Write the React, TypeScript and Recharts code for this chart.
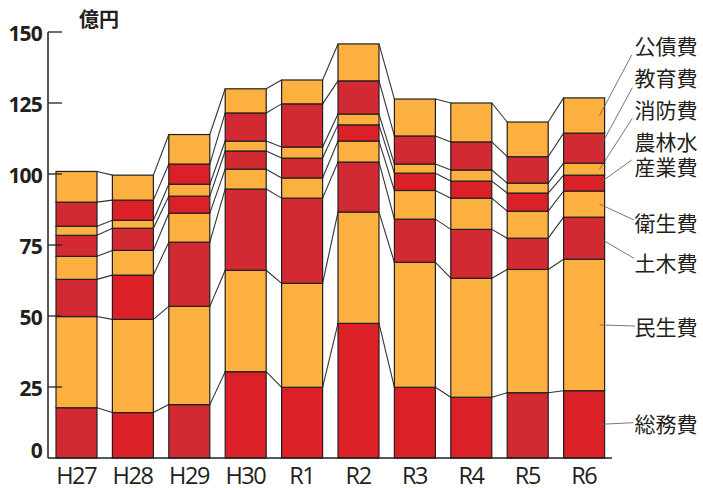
import React from 'react';
import * as RC from 'recharts';

const { BarChart, Bar, XAxis, YAxis } = RC as any;

// ---------- data ----------
const categories = ['H27', 'H28', 'H29', 'H30', 'R1', 'R2', 'R3', 'R4', 'R5', 'R6'];
const soumu = [17.7, 16.0, 18.8, 30.4, 24.9, 47.4, 24.9, 21.4, 23.0, 23.7]; // 総務費
const minsei = [32.1, 32.8, 34.6, 35.7, 36.6, 39.2, 44.0, 41.9, 43.4, 46.3]; // 民生費
const doboku = [13.1, 15.6, 22.6, 28.6, 30.0, 17.6, 15.2, 17.2, 11.0, 14.8]; // 土木費
const eisei = [8.1, 8.7, 10.2, 7.0, 7.1, 7.4, 10.1, 11.0, 9.5, 9.2]; // 衛生費
const nourin = [7.4, 7.8, 6.0, 6.4, 7.0, 5.7, 6.1, 6.0, 6.4, 5.6]; // 農林水産業費
const shoubou = [3.2, 2.8, 4.2, 3.5, 3.9, 3.8, 3.2, 3.9, 3.5, 4.2]; // 消防費
const kyouiku = [8.5, 7.1, 7.1, 9.9, 15.2, 11.7, 9.9, 9.9, 9.3, 10.6]; // 教育費
const kousai = [10.8, 8.8, 10.4, 8.5, 8.4, 13.0, 13.0, 13.7, 12.2, 12.4]; // 公債費

const seriesKeys = ['soumu', 'minsei', 'doboku', 'eisei', 'nourin', 'shoubou', 'kyouiku', 'kousai'];
const seriesNames = ['総務費', '民生費', '土木費', '衛生費', '農林水産業費', '消防費', '教育費', '公債費'];
const seriesValues = [soumu, minsei, doboku, eisei, nourin, shoubou, kyouiku, kousai];
const yTicks = [0, 25, 50, 75, 100, 125, 150];
const unitLabel = '億円';

const data = categories.map((c, i) => {
  const row: any = { name: c };
  seriesKeys.forEach((k, s) => {
    row[k] = seriesValues[s][i];
  });
  return row;
});

// ---------- styles ----------
const ORANGE = '#FBB040';
const RED_D = '#D22A32';
const RED_B = '#DC2027';
const INK = '#231F20';
// red shade per bar (d = darker, b = brighter) for the red series
const redShade: Record<string, string[]> = {
  soumu: ['d', 'b', 'd', 'b', 'b', 'b', 'b', 'b', 'd', 'b'],
  doboku: ['d', 'b', 'd', 'd', 'd', 'd', 'd', 'd', 'd', 'd'],
  nourin: ['d', 'd', 'b', 'd', 'd', 'b', 'b', 'b', 'b', 'b'],
  kyouiku: ['d', 'b', 'b', 'd', 'd', 'd', 'd', 'd', 'd', 'd'],
};
function fillFor(s: number, i: number) {
  const key = seriesKeys[s];
  const shades = redShade[key];
  if (!shades) return ORANGE;
  return shades[i] === 'b' ? RED_B : RED_D;
}

// legend label layout (label text lines with their vertical centres, and leader end point)
const legendLayout: Record<string, { lines: string[]; cy: number[]; end: [number, number] }> = {
  kousai: { lines: ['公債費'], cy: [45], end: [631.7, 55] },
  kyouiku: { lines: ['教育費'], cy: [77.2], end: [632.3, 87.7] },
  shoubou: { lines: ['消防費'], cy: [108.7], end: [632.3, 118.3] },
  nourin: { lines: ['農林水', '産業費'], cy: [141.2, 166.2], end: [631.7, 160] },
  eisei: { lines: ['衛生費'], cy: [222.2], end: [634, 220] },
  doboku: { lines: ['土木費'], cy: [262.3], end: [634, 258.3] },
  minsei: { lines: ['民生費'], cy: [325.8], end: [635, 326] },
  soumu: { lines: ['総務費'], cy: [422.5], end: [633.3, 422.7] },
};

const CHART_W = 703;
const CHART_H = 488;
const MARGIN = { top: 32, right: 91, bottom: 0, left: 0 };
const Y_W = 48;
const X_H = 30;

const usePlotAreaSafe: () => any = (RC as any).usePlotArea || (() => undefined);

function cumTop(s: number, i: number) {
  let t = 0;
  for (let k = 0; k <= s; k++) t += seriesValues[k][i];
  return t;
}

function Seg(props: any) {
  const { x, y, width, height, index, s } = props;
  const plot = usePlotAreaSafe();
  const n = categories.length;
  const band = plot && plot.width
    ? plot.width / n
    : (CHART_W - MARGIN.left - MARGIN.right - Y_W) / n;
  const val = seriesValues[s][index];
  const top = cumTop(s, index);
  const ppu = val > 0 ? height / val : 0;
  const y0 = y + top * ppu; // zero line
  const els: any[] = [];
  els.push(
    <rect key="r" x={x} y={y} width={width} height={height}
      fill={fillFor(s, index)} stroke={INK} strokeWidth={1.2} />
  );
  if (index < n - 1) {
    const nextTop = cumTop(s, index + 1);
    els.push(
      <line key="c" x1={x + width} y1={y} x2={x + band} y2={y0 - nextTop * ppu}
        stroke="#333" strokeWidth={1.1} />
    );
  } else {
    const key = seriesKeys[s];
    const lay = legendLayout[key];
    if (lay) {
      const sx = x + width - 5;
      const sy = y + height / 2;
      els.push(
        <line key="l" x1={sx} y1={sy} x2={lay.end[0]} y2={lay.end[1]}
          stroke="#666" strokeWidth={0.9} />
      );
      lay.lines.forEach((t, k) => {
        els.push(
          <text key={'t' + k} x={x + width + 30} y={lay.cy[k]} dominantBaseline="central"
            fontFamily="'Noto Sans CJK JP', 'Noto Sans', sans-serif" fontSize={21}
            fill={INK}>{t}</text>
        );
      });
    }
  }
  return <g>{els}</g>;
}

function YTick(props: any) {
  const { x, y, payload } = props;
  const v = payload.value;
  const ax = x + 6;
  return (
    <g>
      <text x={x} y={v === 0 ? y - 0.5 : y + 8.8} textAnchor="end"
        fontFamily="'Open Sans', sans-serif" fontWeight={700} fontSize={21}
        letterSpacing={-0.8} fill={INK}>{v}</text>
      {v !== 0 && <line x1={ax} y1={y} x2={ax + 14} y2={y} stroke={INK} strokeWidth={1.3} />}
    </g>
  );
}

function XTick(props: any) {
  const { x, y, payload } = props;
  return (
    <text x={x} y={y + 25.5} textAnchor="middle" fontFamily="'Open Sans', sans-serif"
      fontSize={23.5} letterSpacing={-1.4} fill={INK}>{payload.value}</text>
  );
}

function UnitLabel(props: any) {
  const vb = props.viewBox || { x: 0, y: MARGIN.top, width: Y_W, height: 0 };
  return (
    <text x={vb.x + vb.width + 51} y={vb.y - 5} textAnchor="middle"
      fontFamily="'Noto Sans CJK JP', sans-serif" fontWeight={700} fontSize={20}
      fill={INK}>{unitLabel}</text>
  );
}

export default function App() {
  return (
    <div style={{ position: 'absolute', left: 0, top: 0, width: CHART_W, height: CHART_H, background: '#fff' }}>
      <BarChart width={CHART_W} height={CHART_H} data={data} margin={MARGIN}>
        <XAxis dataKey="name" height={X_H} tickLine={false} tickSize={0} tickMargin={0}
          interval={0} axisLine={{ stroke: INK, strokeWidth: 1.5 }} tick={<XTick />} />
        <YAxis width={Y_W} domain={[0, 150]} ticks={yTicks} interval={0} tickLine={false}
          tickSize={0} tickMargin={6} axisLine={{ stroke: INK, strokeWidth: 1.5 }}
          tick={<YTick />} label={{ content: (p: any) => <UnitLabel {...p} /> }} />
        {seriesKeys.map((k, s) => (
          <Bar key={k} dataKey={k} name={seriesNames[s]} stackId="a" barSize={41}
            isAnimationActive={false}
            shape={(p: any) => <Seg {...p} s={s} />} />
        ))}
      </BarChart>
    </div>
  );
}
